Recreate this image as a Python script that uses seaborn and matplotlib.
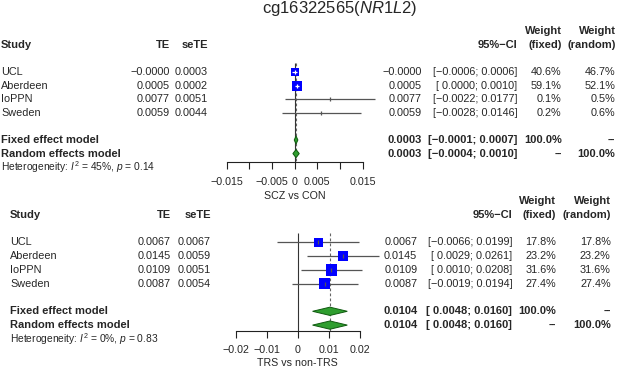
import matplotlib
matplotlib.use('Agg')
import numpy as np
import pandas as pd
import matplotlib.pyplot as plt
import matplotlib.transforms as mtrans
from matplotlib import font_manager as fm
import seaborn as sns

# ---- data ----
studies = ['UCL', 'Aberdeen', 'IoPPN', 'Sweden']

# SCZ vs CON
scz_te = [-0.00001, 0.0005, 0.0077, 0.0059]
scz_se = [0.0003, 0.0002, 0.0051, 0.0044]
scz_lo = [-0.0006, 0.0000, -0.0022, -0.0028]
scz_hi = [0.0006, 0.0010, 0.0177, 0.0146]
scz_wf = [40.6, 59.1, 0.1, 0.2]
scz_wr = [46.7, 52.1, 0.5, 0.6]
scz_fixed = [0.0003, -0.0001, 0.0007]
scz_random = [0.0003, -0.0004, 0.0010]
scz_i2, scz_p = '45%', '0.14'

# TRS vs non-TRS
trs_te = [0.0067, 0.0145, 0.0109, 0.0087]
trs_se = [0.0067, 0.0059, 0.0051, 0.0054]
trs_lo = [-0.0066, 0.0029, 0.0010, -0.0019]
trs_hi = [0.0199, 0.0261, 0.0208, 0.0194]
trs_wf = [17.8, 23.2, 31.6, 27.4]
trs_wr = [17.8, 23.2, 31.6, 27.4]
trs_fixed = [0.0104, 0.0048, 0.0160]
trs_random = [0.0104, 0.0048, 0.0160]
trs_i2, trs_p = '0%', '0.83'

scz_ticks = [-0.015, -0.010, -0.005, 0, 0.005, 0.010, 0.015]
scz_ticklabels = ['\u22120.015', '', '\u22120.005', '0', '0.005', '', '0.015']
trs_ticks = [-0.02, -0.01, 0, 0.01, 0.02]
trs_ticklabels = ['\u22120.02', '\u22120.01', '0', '0.01', '0.02']

title = 'cg16322565($\\it{NR1L2}$)'

sns.set_style('white')
plt.rcParams['font.family'] = ['Liberation Sans', 'DejaVu Sans']
plt.rcParams['mathtext.fontset'] = 'custom'
plt.rcParams['mathtext.rm'] = 'Liberation Sans'
plt.rcParams['mathtext.it'] = 'Liberation Sans:italic'

# make sure bold text really uses Liberation Sans Bold
BOLD_FILE = fm.findfont(fm.FontProperties(family='Liberation Sans', weight='bold'))
REG_FILE = fm.findfont(fm.FontProperties(family='Liberation Sans'))

W, H = 617, 370
fig = plt.figure(figsize=(W / 100, H / 100), dpi=100)
fig.patch.set_facecolor('white')

FS = 7.8
FSB = 8.0
FST = 7.7
LINE = '#555555'


def fmt(v):
    return f'{v:.4f}'.replace('-', '\u2212')


def fmt_ci(lo, hi):
    return f'[{lo:7.4f}; {hi:.4f}]'.replace('-', '\u2212')


def panel(cfg, te, se, lo, hi, wf, wr, fixed, random, i2, p, ticks, ticklabels, xlabel):
    y0, dy, kax = cfg['y0'], cfg['dy'], cfg['axis_k']
    xl, xr = cfg['ax_px']
    ax = fig.add_axes([xl / W, 1 - (y0 + dy * kax) / H, (xr - xl) / W, dy * kax / H])
    ax.set_xlim(ticks[0], ticks[-1])
    ax.set_ylim(kax, 0)
    ax.set_facecolor('none')

    rows = np.arange(1, len(studies) + 1)
    scale = (xr - xl) / (ticks[-1] - ticks[0])  # pixels per unit

    # reference line at 0 and dashed line at the fixed estimate
    ax.vlines(0, 0.35, kax, color='#333333', lw=0.8)
    ax.vlines(fixed[0], 0.35, kax, color='#666666', lw=0.8, linestyles=(0, (2.5, 2)))

    # confidence intervals
    ax.hlines(rows, lo, hi, color=LINE, lw=0.9, clip_on=False, zorder=2)

    # weight boxes
    side_px = cfg['box'] * np.sqrt(np.array(wf))
    df = pd.DataFrame({'te': te, 'row': rows})
    sns.scatterplot(data=df, x='te', y='row', marker='s', s=(side_px * 0.72) ** 2,
                    color='#0000ff', edgecolor='none', linewidth=0, ax=ax,
                    legend=False, clip_on=False, zorder=3)

    for r, t, l, h, sp in zip(rows, te, lo, hi, side_px):
        inside = (h - l) * scale < sp
        col = 'white' if inside else LINE
        if inside:
            ax.hlines(r, l, h, color=col, lw=0.9, zorder=4)
        ax.plot([t], [r], marker='|', ms=3, mew=0.9, color=col, zorder=4, clip_on=False)

    # summary diamonds
    for k, (est, dl, dh) in zip([6, 7], [fixed, random]):
        ax.fill([dl, est, dh, est], [k, k - 0.3, k, k + 0.3], facecolor='#2f9e2f',
                edgecolor='#0f5a0f', lw=0.7, zorder=3, clip_on=False)

    for s in ['top', 'left', 'right']:
        ax.spines[s].set_visible(False)
    ax.spines['bottom'].set_color('#222222')
    ax.spines['bottom'].set_linewidth(0.8)
    ax.set_xticks(ticks, ticklabels)
    ax.set_yticks([])
    ax.tick_params(axis='x', direction='out', length=5, width=0.8, color='#222222',
                   labelsize=FST, pad=cfg['pad'], bottom=True)
    ax.set_ylabel('')
    ax.set_xlabel(xlabel, fontsize=FST, labelpad=2.5)

    tr = mtrans.blended_transform_factory(fig.transFigure, ax.transData)

    def txt(xpx, k, s, ha='right', bold=False, size=None):
        if bold:
            fp = fm.FontProperties(fname=BOLD_FILE, size=size or FSB)
        else:
            fp = fm.FontProperties(fname=REG_FILE, size=size or FS)
        fig.text(xpx / W, k, s, transform=tr, ha=ha, va='center', fontproperties=fp)

    c = cfg['cols']
    # header
    txt(c['study'], -1, 'Study', ha='left', bold=True)
    txt(c['te'], -1, 'TE', bold=True)
    txt(c['se'], -1, 'seTE', bold=True)
    txt(c['ci'], -1, '95%\u2212CI', bold=True)
    txt(c['wf'], -2, 'Weight', bold=True)
    txt(c['wf'], -1, '(fixed)', bold=True)
    txt(c['wr'], -2, 'Weight', bold=True)
    txt(c['wr'], -1, '(random)', bold=True)

    for r, name, t, s_, l, h, a, b in zip(rows, studies, te, se, lo, hi, wf, wr):
        txt(c['study'], r, name, ha='left')
        txt(c['te'], r, fmt(t))
        txt(c['se'], r, fmt(s_))
        txt(c['est'], r, fmt(t))
        txt(c['ci'], r, fmt_ci(l, h))
        txt(c['wf'], r, f'{a:.1f}%')
        txt(c['wr'], r, f'{b:.1f}%')

    txt(c['study'], 6, 'Fixed effect model', ha='left', bold=True)
    txt(c['est'], 6, fmt(fixed[0]), bold=True)
    txt(c['ci'], 6, fmt_ci(fixed[1], fixed[2]), bold=True)
    txt(c['wf'], 6, '100.0%', bold=True)
    txt(c['wr'], 6, '--', bold=True)
    txt(c['study'], 7, 'Random effects model', ha='left', bold=True)
    txt(c['est'], 7, fmt(random[0]), bold=True)
    txt(c['ci'], 7, fmt_ci(random[1], random[2]), bold=True)
    txt(c['wf'], 7, '--', bold=True)
    txt(c['wr'], 7, '100.0%', bold=True)
    fig.text(c['study'] / W, 8, f'Heterogeneity: $I^2$ = {i2}, $p$ = {p}', transform=tr,
             ha='left', va='center', fontsize=7.4)
    return ax


top_cfg = dict(y0=58.4, dy=13.6, axis_k=7.6, ax_px=(226.7, 362.7), box=1.3, pad=6,
               cols=dict(study=1, te=170, se=208, est=421.7, ci=517.3, wf=561.7, wr=615.5))
bot_cfg = dict(y0=228.5, dy=13.8, axis_k=7.43, ax_px=(235.7, 359.7), box=2.13, pad=5,
               cols=dict(study=10, te=170.7, se=211, est=417.3, ci=512.3, wf=556, wr=610.7))

panel(top_cfg, scz_te, scz_se, scz_lo, scz_hi, scz_wf, scz_wr, scz_fixed, scz_random,
      scz_i2, scz_p, scz_ticks, scz_ticklabels, 'SCZ vs CON')
panel(bot_cfg, trs_te, trs_se, trs_lo, trs_hi, trs_wf, trs_wr, trs_fixed, trs_random,
      trs_i2, trs_p, trs_ticks, trs_ticklabels, 'TRS vs non-TRS')

fig.text(340 / W, 1 - 8.5 / H, title, ha='center', va='center', fontsize=12)

fig.savefig('out.png', dpi=100, facecolor='white')
